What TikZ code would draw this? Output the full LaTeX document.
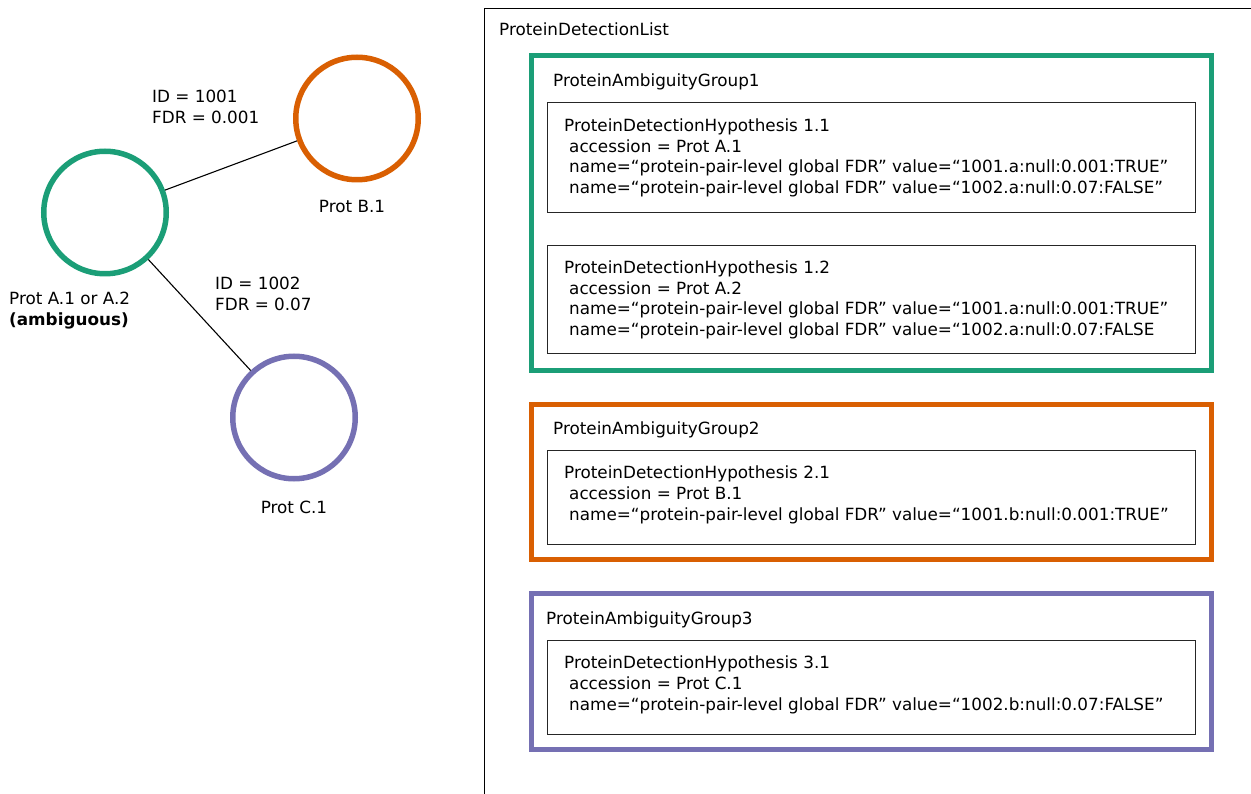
\documentclass[tikz,border=0pt]{standalone}
\usepackage{fontspec}
\setmainfont{DejaVu Sans}
\definecolor{cgreen}{HTML}{1B9E77}
\definecolor{corange}{HTML}{D95F02}
\definecolor{cpurple}{HTML}{7570B3}
\tikzset{
  prot/.style={circle,draw=#1,line width=5.5pt,inner sep=0pt,minimum size=122.5pt},
  txt/.style={anchor=base west,inner sep=0pt,font=\fontsize{16.8}{20.5}\selectfont},
  ctxt/.style={anchor=base,inner sep=0pt,font=\fontsize{16.8}{20.5}\selectfont},
  group/.style={draw=#1,line width=5pt},
  hyp/.style={draw=black!85,line width=1.2pt},
  edge/.style={draw=black,line width=1.1pt}
}
\begin{document}
\begin{tikzpicture}[x=1pt,y=-1pt]
\useasboundingbox (0,0) rectangle (1251,794);
% network
\node[prot=cgreen] (A) at (105,212.5) {};
\node[prot=corange] (B) at (357,118.5) {};
\node[prot=cpurple] (C) at (294,417.5) {};
\draw[edge] (A) -- (B);
\draw[edge] (A) -- (C);
\node[txt] (id1) at (152,103) {ID = 1001};
\node[txt] (fdr1) at (152,123.5) {FDR = 0.001};
\node[txt] (id2) at (215,290) {ID = 1002};
\node[txt] (fdr2) at (215,310.5) {FDR = 0.07};
\node[ctxt] (lb) at (352,213) {Prot B.1};
\node[txt] (la) at (9,305) {Prot A.1 or A.2};
\node[txt,font=\fontsize{16.8}{20.5}\selectfont\bfseries] (lamb) at (9,326) {(ambiguous)};
\node[ctxt] (lc) at (294,513) {Prot C.1};
% list
\draw[line width=1.3pt] (1251,8.5) -- (484.5,8.5) -- (484.5,794);
\node[txt] (pdl) at (499,36) {ProteinDetectionList};
% group 1
\draw[group=cgreen] (531.5,55.5) rectangle (1211.5,370.5);
\node[txt] (g1) at (553,87) {ProteinAmbiguityGroup1};
\draw[hyp] (547.5,102.5) rectangle (1195.5,212.5);
\node[txt] (h11) at (564,132) {ProteinDetectionHypothesis 1.1};
\node[txt] (h11a) at (569,152.5) {accession = Prot A.1};
\node[txt] (h11b) at (569,173) {name=“protein-pair-level global FDR” value=“1001.a:null:0.001:TRUE”};
\node[txt] (h11c) at (569,193.5) {name=“protein-pair-level global FDR” value=“1002.a:null:0.07:FALSE”};
\draw[hyp] (547.5,245.5) rectangle (1195.5,353.5);
\node[txt] (h12) at (564,274) {ProteinDetectionHypothesis 1.2};
\node[txt] (h12a) at (569,294.5) {accession = Prot A.2};
\node[txt] (h12b) at (569,315) {name=“protein-pair-level global FDR” value=“1001.a:null:0.001:TRUE”};
\node[txt] (h12c) at (569,335.5) {name=“protein-pair-level global FDR” value=“1002.a:null:0.07:FALSE};
% group 2
\draw[group=corange] (531.5,404.5) rectangle (1211.5,559.5);
\node[txt] (g2) at (553,434) {ProteinAmbiguityGroup2};
\draw[hyp] (547.5,450.5) rectangle (1195.5,544.5);
\node[txt] (h21) at (564,478) {ProteinDetectionHypothesis 2.1};
\node[txt] (h21a) at (569,499) {accession = Prot B.1};
\node[txt] (h21b) at (569,520) {name=“protein-pair-level global FDR” value=“1001.b:null:0.001:TRUE”};
% group 3
\draw[group=cpurple] (531.5,593.5) rectangle (1211.5,749.5);
\node[txt] (g3) at (546,624) {ProteinAmbiguityGroup3};
\draw[hyp] (547.5,640.5) rectangle (1195.5,734.5);
\node[txt] (h31) at (564,668) {ProteinDetectionHypothesis 3.1};
\node[txt] (h31a) at (569,689) {accession = Prot C.1};
\node[txt] (h31b) at (569,710) {name=“protein-pair-level global FDR” value=“1002.b:null:0.07:FALSE”};
\end{tikzpicture}
\end{document}
